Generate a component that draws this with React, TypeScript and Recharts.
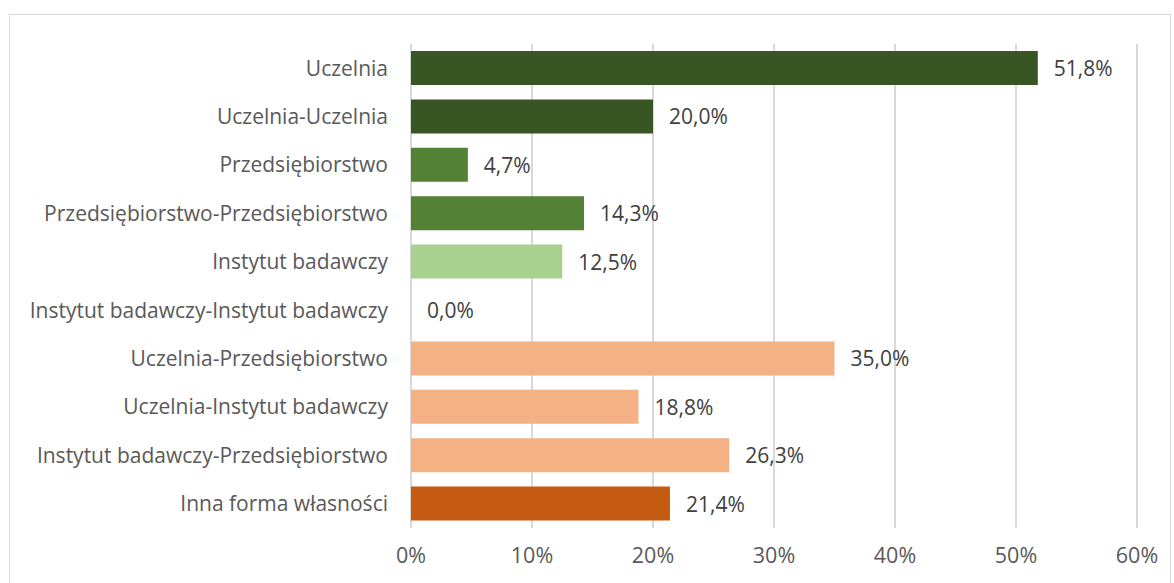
import React from 'react';
import { BarChart, Bar, XAxis, YAxis, CartesianGrid, Cell, LabelList } from 'recharts';

const categories = [
  'Uczelnia',
  'Uczelnia-Uczelnia',
  'Przedsiębiorstwo',
  'Przedsiębiorstwo-Przedsiębiorstwo',
  'Instytut badawczy',
  'Instytut badawczy-Instytut badawczy',
  'Uczelnia-Przedsiębiorstwo',
  'Uczelnia-Instytut badawczy',
  'Instytut badawczy-Przedsiębiorstwo',
  'Inna forma własności',
];

const values = [51.8, 20.0, 4.7, 14.3, 12.5, 0.0, 35.0, 18.8, 26.3, 21.4];

const barColors = [
  '#375623',
  '#375623',
  '#538135',
  '#538135',
  '#A9D18E',
  '#A9D18E',
  '#F4B183',
  '#F4B183',
  '#F4B183',
  '#C55A11',
];

const xTicks = [0, 10, 20, 30, 40, 50, 60];

const chartData = categories.map((name, i) => ({ name, value: values[i] }));

const font = '"Open Sans", "Noto Sans", sans-serif';

const fmt = (v: number) => v.toFixed(1).replace('.', ',') + '%';

// własna etykieta, żeby 0,0% też się pokazało
const renderLabel = (props: any) => {
  const { x, y, width, height, value } = props;
  const w = Number(value) === 0 ? 0 : Number(width || 0);
  return (
    <text
      x={Number(x) + w + 16}
      y={Number(y) + Number(height) / 2}
      dominantBaseline="central"
      fill="#404040"
      fontSize={21}
      fontFamily={font}
    >
      {fmt(Number(value))}
    </text>
  );
};

const App: React.FC = () => {
  return (
    <div style={{ position: 'absolute', left: 0, top: 0, width: 1174, height: 583, background: '#fff', fontFamily: font }}>
      <div
        style={{
          position: 'absolute',
          left: 9,
          top: 14,
          width: 1162,
          height: 600,
          border: '1.5px solid #d9d9d9',
          boxSizing: 'border-box',
        }}
      />
      <div style={{ position: 'absolute', left: 0, top: 0 }}>
        <BarChart
          width={1174}
          height={583}
          data={chartData}
          layout="vertical"
          barSize={34}
          margin={{ top: 44, right: 37, left: 0, bottom: 25 }}
        >
          <CartesianGrid horizontal={false} stroke="#d9d9d9" strokeWidth={2} />
          <XAxis
            type="number"
            domain={[0, 60]}
            ticks={xTicks}
            tickFormatter={(v: number) => v + '%'}
            axisLine={false}
            tickLine={false}
            height={30}
            tickMargin={14}
            tick={{ fill: '#595959', fontSize: 21.5, fontFamily: font }}
          />
          <YAxis
            type="category"
            dataKey="name"
            width={411}
            axisLine={false}
            tickLine={false}
            tickMargin={17}
            interval={0}
            tick={{ fill: '#595959', fontSize: 21, fontFamily: font }}
          />
          <Bar dataKey="value" minPointSize={1} isAnimationActive={false}>
            {chartData.map((d, i) => (
              <Cell key={d.name} fill={d.value === 0 ? 'none' : barColors[i]} />
            ))}
            <LabelList dataKey="value" content={renderLabel} />
          </Bar>
        </BarChart>
      </div>
    </div>
  );
};

export default App;
